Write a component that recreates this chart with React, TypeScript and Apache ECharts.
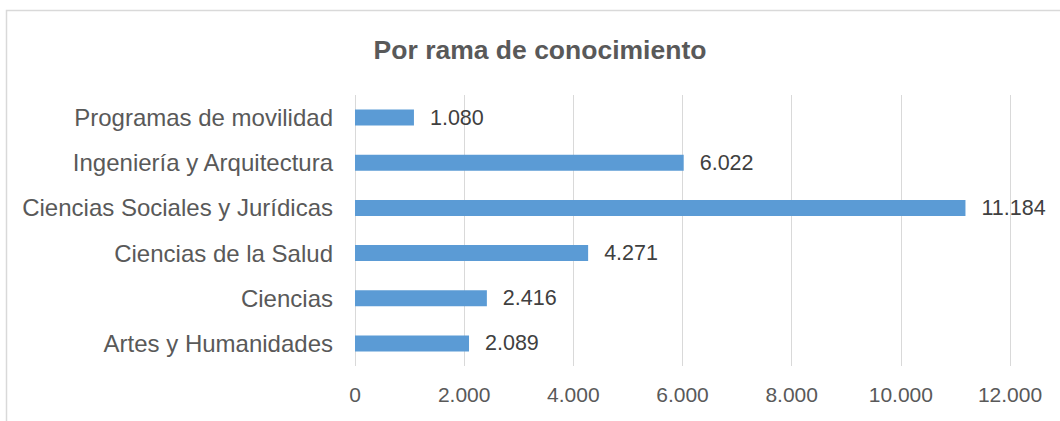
import React, { useEffect, useRef } from "react";
import * as echarts from "echarts";

const categories = [
  "Artes y Humanidades",
  "Ciencias",
  "Ciencias de la Salud",
  "Ciencias Sociales y Jurídicas",
  "Ingeniería y Arquitectura",
  "Programas de movilidad",
];
const values = [2089, 2416, 4271, 11184, 6022, 1080];
const titleText = "Por rama de conocimiento";
const axisMax = 12000;
const axisStep = 2000;

const fmt = (v: number) => {
  const s = Math.round(v).toString();
  return s.replace(/\B(?=(\d{3})+(?!\d))/g, ".");
};

export default function App() {
  const ref = useRef<HTMLDivElement>(null);
  useEffect(() => {
    if (!ref.current) return;
    const chart = echarts.init(ref.current, undefined, { renderer: "svg" });
    const numFont = "'Liberation Sans', Arial, sans-serif";
    chart.setOption({
      animation: false,
      backgroundColor: "#ffffff",
      title: {
        text: titleText,
        left: 535,
        textAlign: "center",
        top: 31,
        textStyle: {
          fontFamily: "'Liberation Sans', Arial, sans-serif",
          fontWeight: "bold",
          fontSize: 26.5,
          color: "#595959",
        },
      },
      graphic: [
        {
          type: "rect",
          shape: { x: 6.5, y: 10.5, width: 1080, height: 430 },
          style: { fill: "none", stroke: "#d9d9d9", lineWidth: 1.5 },
          silent: true,
        },
      ],
      grid: { left: 355, right: 50, top: 95, bottom: 55, containLabel: false },
      xAxis: {
        type: "value",
        min: 0,
        max: axisMax,
        interval: axisStep,
        axisLine: { show: false },
        axisTick: { show: false },
        splitLine: { show: true, lineStyle: { color: "#d9d9d9", width: 1 } },
        axisLabel: {
          formatter: (v: number) => fmt(v),
          fontFamily: numFont,
          fontSize: 21,
          color: "#595959",
          margin: 18,
        },
      },
      yAxis: {
        type: "category",
        data: categories,
        axisLine: { show: false },
        axisTick: { show: false },
        splitLine: { show: false },
        axisLabel: {
          fontFamily: "'Liberation Sans', Arial, sans-serif",
          fontSize: 24,
          color: "#595959",
          margin: 22,
        },
      },
      series: [
        {
          type: "bar",
          data: values,
          barWidth: 16,
          itemStyle: { color: "#5b9bd5" },
          label: {
            show: true,
            position: "right",
            distance: 16,
            formatter: (p: any) => fmt(p.value),
            fontFamily: numFont,
            fontSize: 21.5,
            color: "#404040",
          },
        },
      ],
    });
    return () => chart.dispose();
  }, []);
  return (
    <div
      ref={ref}
      style={{ position: "absolute", left: 0, top: 0, width: 1060, height: 421 }}
    />
  );
}
